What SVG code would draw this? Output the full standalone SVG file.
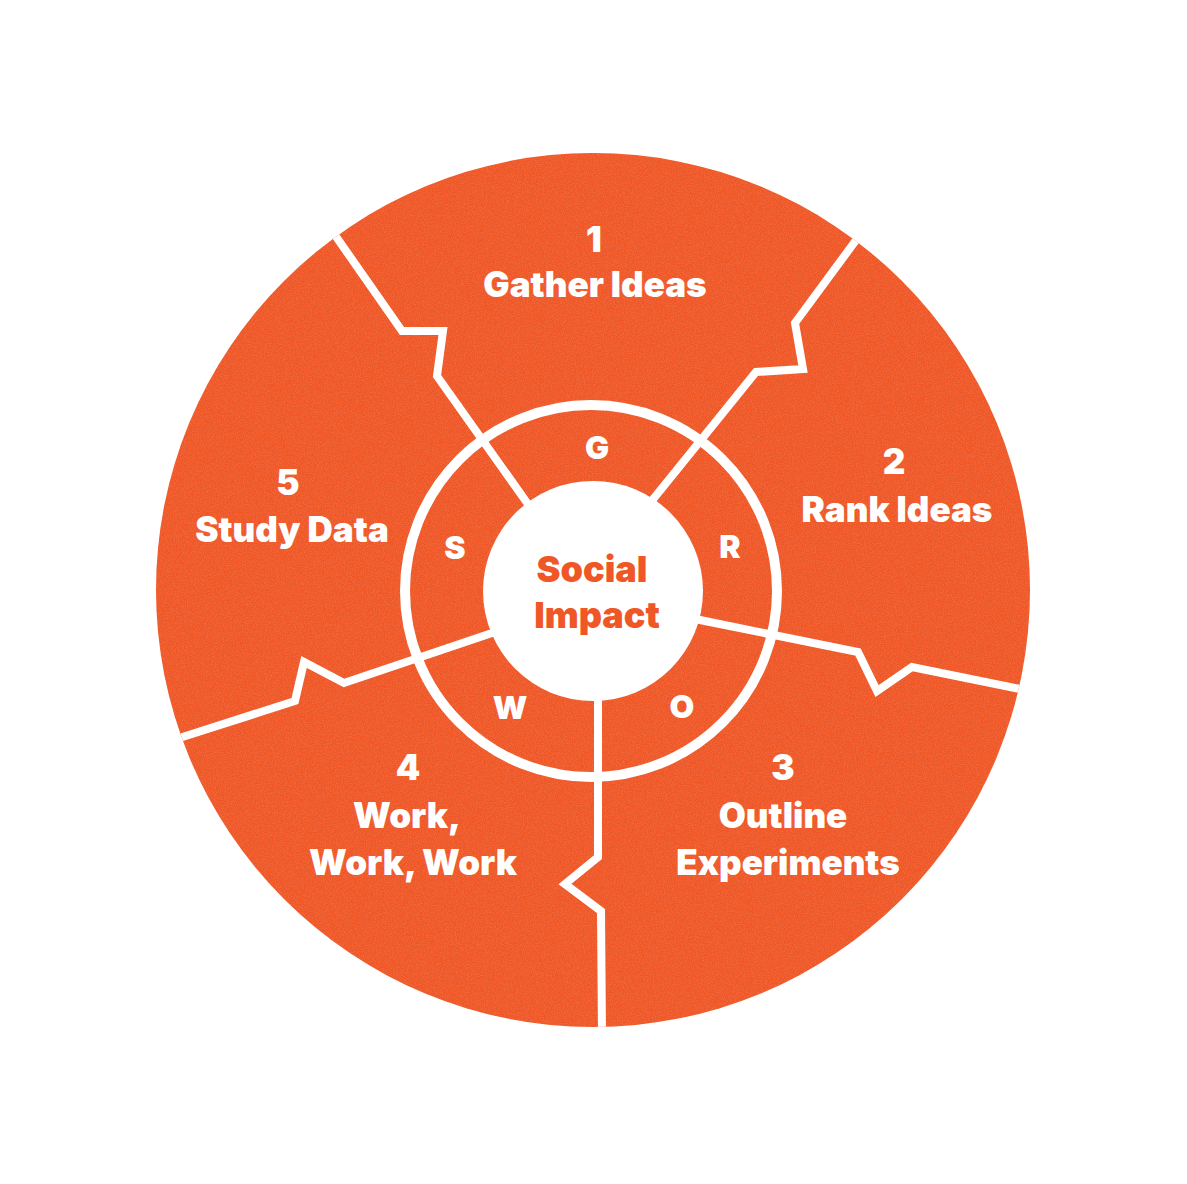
<svg xmlns="http://www.w3.org/2000/svg" width="1187" height="1184" viewBox="0 0 1187 1184">
  <style>
    .lbl { font-family: Inter, "Liberation Sans", sans-serif; font-weight: 900; fill: #ffffff; text-anchor: middle; }
    .big { font-size: 35px; }
    .ring { font-size: 32px; }
    .ctr { font-family: Inter, "Liberation Sans", sans-serif; font-weight: 900; fill: #EF5726; text-anchor: middle; font-size: 36px; }
    .div { fill: none; stroke: #ffffff; stroke-width: 8; stroke-linejoin: miter; stroke-linecap: butt; }
  </style>
  <defs>
    <clipPath id="disc"><circle cx="593" cy="590" r="437"/></clipPath>
    <filter id="grunge" x="0" y="0" width="100%" height="100%">
      <feTurbulence type="fractalNoise" baseFrequency="0.9" numOctaves="2" seed="7" result="n"/>
      <feColorMatrix in="n" type="matrix" values="0 0 0 0 1  0 0 0 0 1  0 0 0 0 1  0 0 0 -6 3.4"/>
    </filter>
  </defs>
  <rect width="1187" height="1184" fill="#ffffff"/>
  <g id="disc-bg">
    <circle cx="593" cy="590" r="437" fill="#EF5726"/>
    <rect x="150" y="150" width="890" height="885" filter="url(#grunge)" clip-path="url(#disc)" opacity="0.08"/>
  </g>
  <g id="ring">
    <circle cx="591" cy="591" r="186" fill="none" stroke="#ffffff" stroke-width="10"/>
  </g>
  <g id="connectors" clip-path="url(#disc)">
    <polyline class="div" points="330,228 402,331 443,331 437,376 530,507"/>
    <polyline class="div" points="862,232 795,323 803,369 756,372 650,503"/>
    <polyline class="div" points="695,619 858,652 877,691 912,667 1030,691"/>
    <polyline class="div" points="170,741 295,701 304,662 344,683 495,632"/>
    <polyline class="div" points="598,695 598,857 565,884 601,911 602,1035"/>
  </g>
  <g id="center">
    <circle cx="593" cy="591" r="110" fill="#ffffff"/>
    <text class="ctr" x="592" y="582">Social</text>
    <text class="ctr" x="597" y="628">Impact</text>
  </g>
  <g id="seg1"><text class="lbl big" x="594" y="252">1</text><text class="lbl big" x="595" y="297">Gather Ideas</text></g>
  <g id="seg2"><text class="lbl big" x="894" y="474">2</text><text class="lbl big" x="897" y="522">Rank Ideas</text></g>
  <g id="seg3"><text class="lbl big" x="783" y="780">3</text><text class="lbl big" x="783" y="828">Outline</text><text class="lbl big" x="788" y="875">Experiments</text></g>
  <g id="seg4"><text class="lbl big" x="408" y="780">4</text><text class="lbl big" x="407" y="828">Work,</text><text class="lbl big" x="413" y="875">Work, Work</text></g>
  <g id="seg5"><text class="lbl big" x="288" y="495">5</text><text class="lbl big" x="292" y="542">Study Data</text></g>
  <g id="ring-g"><text class="lbl ring" x="597" y="459">G</text></g>
  <g id="ring-r"><text class="lbl ring" x="730" y="558">R</text></g>
  <g id="ring-o"><text class="lbl ring" x="682" y="718">O</text></g>
  <g id="ring-w"><text class="lbl ring" x="510" y="719">W</text></g>
  <g id="ring-s"><text class="lbl ring" x="455" y="559">S</text></g>
</svg>
